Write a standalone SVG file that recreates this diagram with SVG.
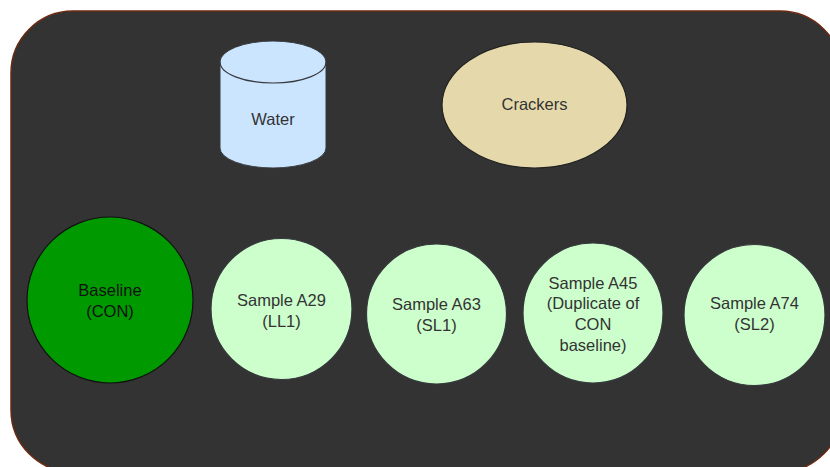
<svg xmlns="http://www.w3.org/2000/svg" width="830" height="467" viewBox="0 0 830 467">
  <style>
    .lbl { font-family: "Liberation Sans", Arial, sans-serif; font-size: 16.5px; fill: #333333; text-anchor: middle; dominant-baseline: central; }
    .dark { fill: #111111; }
    .sample { fill: #ccffcc; stroke: #36393d; stroke-width: 1.2; }
  </style>
  <rect width="830" height="467" fill="#ffffff"/>
  <!-- container panel -->
  <g id="panel">
    <rect x="11" y="11" width="831" height="461" rx="62" ry="62" fill="#333333" stroke="#6b2a10" stroke-width="1.5"/>
  </g>
  <g id="connectors"/>
  <!-- water cylinder -->
  <g id="water">
    <path d="M220,62 A53,21 0 0 1 326,62 L326,148 A53,20 0 0 1 220,148 Z" fill="#cce5ff" stroke="#36393d" stroke-width="1"/>
    <path d="M220,62 A53,21 0 0 0 326,62" fill="none" stroke="#36393d" stroke-width="1.2"/>
    <text class="lbl" x="273" y="119">Water</text>
  </g>
  <g id="crackers">
    <ellipse cx="534.5" cy="105" rx="92.5" ry="63" fill="#e5d9ab" stroke="#222222" stroke-width="1.2"/>
    <text class="lbl" x="534.5" y="104">Crackers</text>
  </g>
  <g id="baseline">
    <circle cx="110" cy="300" r="83" fill="#009900" stroke="#111111" stroke-width="1.2"/>
    <text class="lbl dark" x="110" y="290">Baseline</text>
    <text class="lbl dark" x="110" y="311">(CON)</text>
  </g>
  <g id="sample-a29">
    <circle class="sample" cx="281.5" cy="309" r="70.5"/>
    <text class="lbl" x="281.5" y="300">Sample A29</text>
    <text class="lbl" x="281.5" y="321">(LL1)</text>
  </g>
  <g id="sample-a63">
    <circle class="sample" cx="436.5" cy="314" r="70"/>
    <text class="lbl" x="436.5" y="304">Sample A63</text>
    <text class="lbl" x="436.5" y="325">(SL1)</text>
  </g>
  <g id="sample-a45">
    <circle class="sample" cx="593" cy="313" r="70"/>
    <text class="lbl" x="593" y="283">Sample A45</text>
    <text class="lbl" x="593" y="303">(Duplicate of</text>
    <text class="lbl" x="593" y="324">CON</text>
    <text class="lbl" x="593" y="345">baseline)</text>
  </g>
  <g id="sample-a74">
    <circle class="sample" cx="754.5" cy="315" r="70.5"/>
    <text class="lbl" x="754.5" y="303">Sample A74</text>
    <text class="lbl" x="754.5" y="324">(SL2)</text>
  </g>
</svg>
